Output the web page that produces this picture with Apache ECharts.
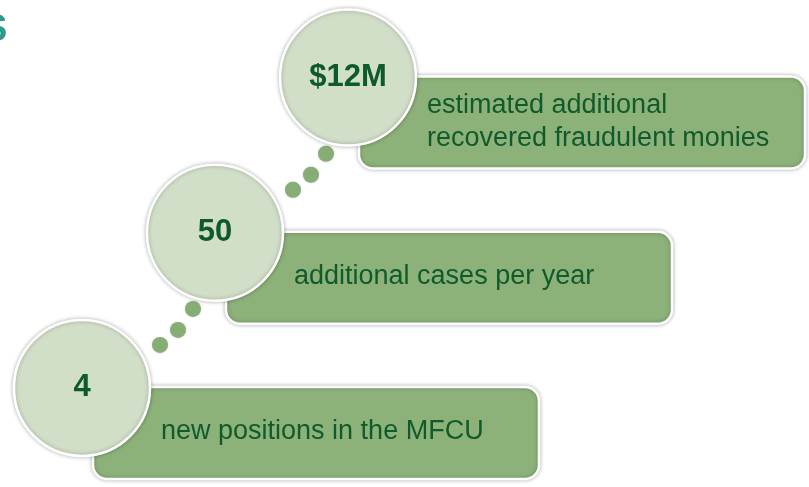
<!DOCTYPE html>
<html>
<head>
<meta charset="utf-8">
<script src="https://cdn.jsdelivr.net/npm/echarts@6/dist/echarts.min.js"></script>
<style>
html, body { margin: 0; padding: 0; background: #fff; }
#main { width: 809px; height: 487px; }
</style>
</head>
<body>
<div id="main"></div>
<script>
// one step per row, bottom to top
var steps = [0, 1, 2];
var figures = ['4', '50', '$12M'];
var captions = [
    'new positions in the MFCU',
    'additional cases per year',
    'estimated additional\nrecovered fraudulent monies'
];

var chart = echarts.init(document.getElementById('main'));

var boxColor = '#8cb27a';
var circleColor = '#d2dfc8';
var textColor = '#105a2b';
var shadow = 'rgba(0,0,0,0.28)';

function renderStep(params, api) {
    var i = api.value(0);
    var c = api.coord([api.value(0), api.value(1)]);
    var cx = c[0], cy = c[1];
    var kids = [];

    // caption box
    kids.push({
        type: 'rect',
        shape: { x: cx + 11, y: cy - 1, width: 446, height: 92, r: 14 },
        style: { fill: boxColor, stroke: '#fff', lineWidth: 2.5, shadowBlur: 4, shadowColor: shadow },
        z2: 1
    });
    kids.push({
        type: 'text',
        x: cx + 79,
        y: cy + 44,
        style: {
            text: captions[i],
            font: '27px "Liberation Sans", Arial, sans-serif',
            fill: textColor,
            verticalAlign: 'middle',
            lineHeight: 33
        },
        z2: 2
    });

    // three dots leading up to the next circle
    if (i < steps.length - 1) {
        [[78, -43], [96, -58], [111, -79]].forEach(function (d) {
            kids.push({
                type: 'circle',
                shape: { cx: cx + d[0], cy: cy + d[1], r: 8 },
                style: { fill: '#86ae74', shadowBlur: 2, shadowColor: 'rgba(0,0,0,0.2)' },
                z2: 1
            });
        });
    }

    // number circle
    kids.push({
        type: 'circle',
        shape: { cx: cx, cy: cy, r: 68 },
        style: { fill: circleColor, stroke: '#fff', lineWidth: 2.5, shadowBlur: 4, shadowColor: shadow },
        z2: 3
    });
    kids.push({
        type: 'text',
        x: cx,
        y: cy,
        style: {
            text: figures[i],
            font: 'bold 31px "Liberation Sans", Arial, sans-serif',
            fill: '#0d5a2b',
            align: 'center',
            verticalAlign: 'middle'
        },
        z2: 4
    });

    return { type: 'group', children: kids };
}

option = {
    animation: false,
    grid: {
        left: 15.5,
        width: 399,
        bottom: 21.5,
        height: 471
    },
    xAxis: { type: 'value', min: -0.5, max: 2.5, show: false },
    yAxis: { type: 'value', min: -0.5, max: 2.5, show: false },
    graphic: [{
        type: 'text',
        left: -18,
        top: 12,
        style: {
            text: 'S',
            font: 'bold 38px "Liberation Sans", Arial, sans-serif',
            fill: '#2e9a8c'
        }
    }],
    series: [{
        type: 'custom',
        renderItem: renderStep,
        clip: false,
        data: steps.map(function (s) { return [s, s]; })
    }]
};
chart.setOption(option);
</script>
</body>
</html>
